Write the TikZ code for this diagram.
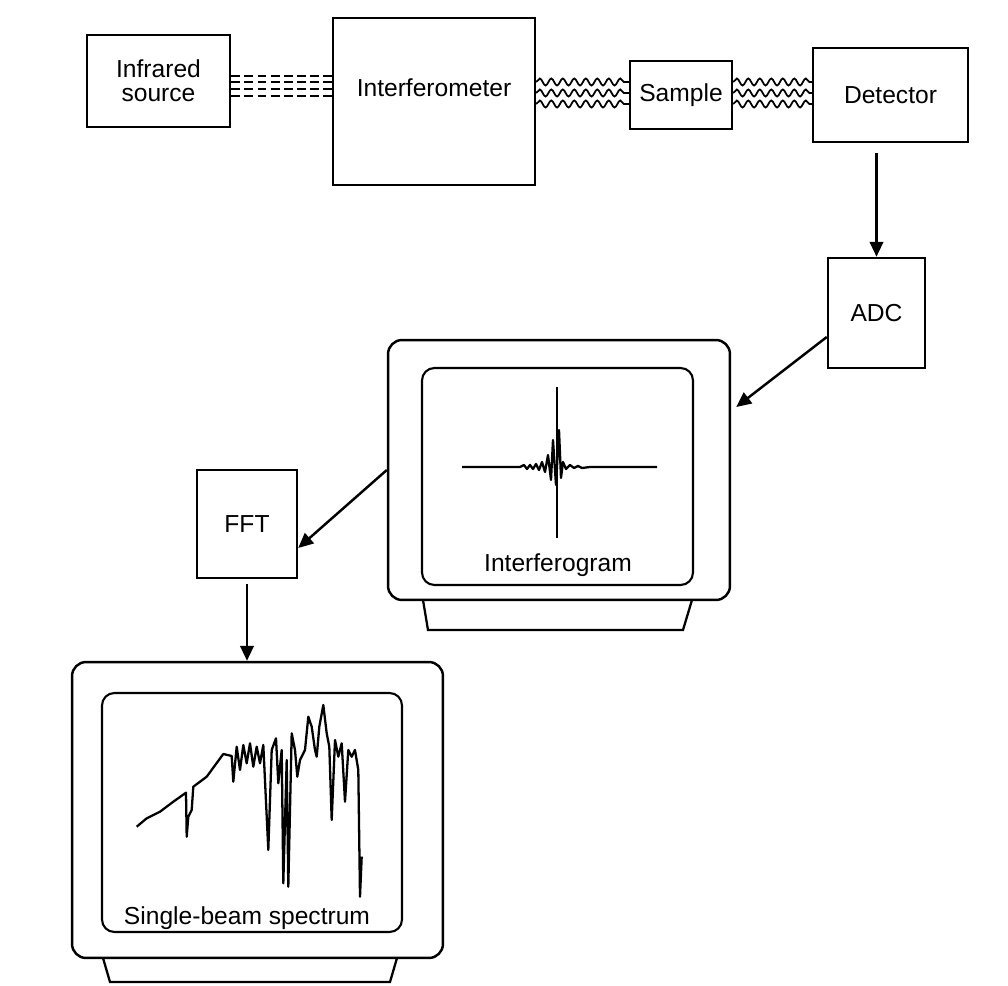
\documentclass[tikz,border=0pt]{standalone}
\usepackage{fontspec}
\setmainfont{Liberation Sans}
\usetikzlibrary{positioning}
\usetikzlibrary{arrows.meta}
\usetikzlibrary{decorations.pathmorphing}

\begin{document}
\begin{tikzpicture}[x=0.02cm,y=-0.02cm,
		font=\fontsize{14}{13.5}\selectfont,
		box/.style={draw,line width=1.4pt,rectangle,inner sep=2pt},
		monitor/.style={draw,line width=1.4pt,rectangle,rounded corners=8pt},
		screen/.style={draw,line width=1.2pt,rectangle,rounded corners=7pt},
		beam/.style={line width=1.1pt,dash pattern=on 5pt off 2.5pt},
		wave/.style={line width=1pt,decorate,decoration={snake,segment length=0.23cm,amplitude=0.07cm}},
		arr/.style={line width=1.4pt,-{Triangle[length=0.3cm,width=0.27cm]}},
		trace/.style={line width=1.3pt,line join=round}]
		\useasboundingbox (0,0) rectangle (1008,986);

		% optical bench
		\node[box,minimum width=2.86cm,minimum height=1.84cm,align=center] at (158.5,81) (src)
		{Infrared\\source};
		\node[box,minimum width=4.04cm,minimum height=3.34cm,label={[yshift=0.27cm]center:Interferometer}] at (434,101.5) (inter) {};
		\node[box,minimum width=2.04cm,minimum height=1.36cm] at (681,95) (sample) {Sample};
		\node[box,minimum width=3.1cm,minimum height=1.88cm] at (890.5,95) (det) {Detector};

		% electronics
		\node[box,minimum width=1.94cm,minimum height=2.2cm] at (876.5,313) (adc) {ADC};
		\node[box,minimum width=2cm,minimum height=2.16cm] at (247,524) (fft) {FFT};

		% monitors
		\node[monitor,minimum width=6.84cm,minimum height=5.2cm] at (559,470) (mon1) {};
		\node[screen,minimum width=5.42cm,minimum height=4.34cm] at (557.5,476.5) (scr1) {};
		\node at (558,565) (lab1) {Interferogram};
		\draw[line width=1.3pt] (423,600) -- (428,630) -- (683,630) -- (692,600);

		\node[monitor,minimum width=7.42cm,minimum height=5.92cm] at (257.5,810) (mon2) {};
		\node[screen,minimum width=6cm,minimum height=4.78cm] at (252,812.5) (scr2) {};
		\node at (247,918) (lab2) {Single-beam spectrum};
		\draw[line width=1.3pt] (103,958) -- (110,982) -- (390,982) -- (397,958);

		% beams
		\foreach \d in {0.1,-0.02,-0.16,-0.3}
			\draw[beam] ([yshift=\d cm]src.east) -- ([yshift=\d cm]src.east -| inter.west);
		\foreach \d in {0.26,0.04,-0.18}
		{
			\draw[wave] ([yshift=\d cm]sample.west -| inter.east) -- ([yshift=\d cm]sample.west);
			\draw[wave] ([yshift=\d cm]sample.east) -- ([yshift=\d cm]sample.east -| det.west);
		}

		% signal path
		\draw[arr,shorten <=0.2cm] (adc.north |- det.south) -- (adc.north);
		\draw[arr] ([yshift=-0.48cm]adc.west) -- ([xshift=0.1cm,yshift=1.26cm]mon1.east);
		\draw[arr] (mon1.west) -- ([yshift=-0.48cm]fft.east);
		\draw[arr,shorten <=0.1cm] (fft.south) -- (fft.south |- mon2.north);

		% interferogram
		\draw[trace] (462,467) -- (520,467) -- (524,465) -- (527,469) -- (530,465) -- (533,469)
			-- (536,464) -- (539,470) -- (542,462) -- (545,472) -- (548,455) -- (551,480)
			-- (553,440) -- (556,485) -- (559,430) -- (561,478) -- (563,462) -- (566,469)
			-- (570,465) -- (574,468) -- (578,466) -- (582,468) -- (590,467) -- (657,467);
		\draw[trace] (557,387) -- (557,538);

		% spectrum
		\draw[trace] (136.7,826.7) -- (146.7,818.3) -- (160,811.7) -- (173.3,801.7) -- (186,792.7)
			-- (186.7,836.7) -- (188.3,816.7) -- (191.7,810) -- (193.3,786.7) -- (206.7,776.7)
			-- (223.3,754) -- (231.7,756) -- (233.3,781.7) -- (236.7,746.7) -- (240,770)
			-- (243.3,745) -- (246.7,763.3) -- (250,743.3) -- (253.3,766.7) -- (256.7,746.7)
			-- (260,763.3) -- (263.3,745) -- (268.3,850) -- (271.7,750) -- (276,738.3)
			-- (278.3,783.3) -- (281.7,750) -- (283.3,883.3) -- (286.7,760) -- (288.3,886.7)
			-- (291.7,733.3) -- (295,750) -- (297.3,776.7) -- (300,760) -- (305,750)
			-- (308.3,716.7) -- (311.7,726.7) -- (315,750) -- (316.7,756.7) -- (319.3,726.7)
			-- (323.3,705) -- (326.7,733.3) -- (329.3,746.7) -- (331.7,820) -- (335,740)
			-- (338.3,756.7) -- (341.7,743.3) -- (345,801.7) -- (348.3,750) -- (351.7,756.7)
			-- (355,750) -- (358.3,770) -- (360,896.7) -- (361.7,856.7);
	\end{tikzpicture}
\end{document}
